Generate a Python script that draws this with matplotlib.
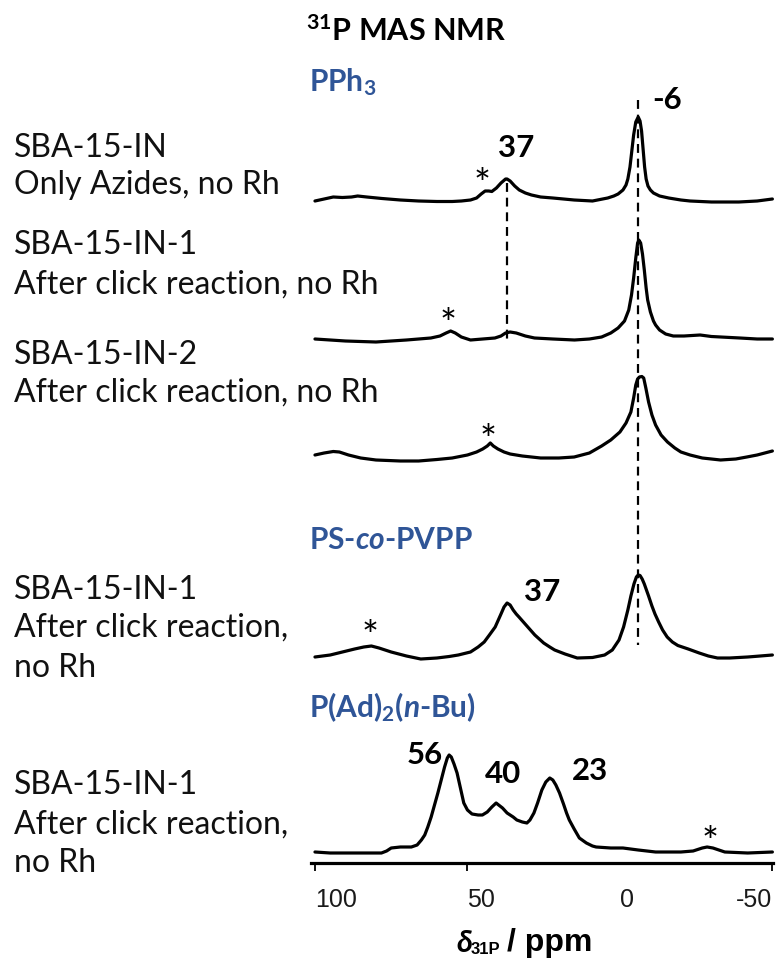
import matplotlib
matplotlib.use("Agg")
import matplotlib.pyplot as plt
import numpy as np

plt.rcParams['mathtext.fontset'] = 'custom'
plt.rcParams['mathtext.rm'] = 'Lato:bold'
plt.rcParams['mathtext.bf'] = 'Lato:bold'
plt.rcParams['mathtext.it'] = 'Lato:italic:bold'

# ---- spectra: chemical shift (ppm) and intensity (a.u., above own baseline) ----
ppm_in = [100, 97, 94, 91, 88, 86, 83, 78, 72, 66, 60, 55, 52, 49, 47, 45.5, 44.2, 43.0,
          42.0, 40.5, 39.0, 37.5, 37.0, 36.0, 34.5, 33.0, 31.0, 29.0, 26.0, 22.0, 15.0,
          9.0, 4.0, 2.0, 0.6, -1.0, -2.0, -2.6, -3.3, -3.9, -4.5, -5.2, -6.0, -6.6,
          -7.1, -7.6, -8.1, -8.6, -9.2, -10.0, -11.0, -13.0, -16.0, -20.0, -23.0, -30.0,
          -39.0, -45.0, -50]
int_in = [0, 2, 4, 3.5, 4, 5, 4, 2.5, 1, 0, -0.5, -0.5, 0, 1, 3, 7, 10, 10,
          9.5, 13, 18, 22, 22, 20, 15, 11, 8, 6, 4, 3, 1,
          0, 3, 5, 7, 11, 16, 22, 34, 50, 66, 79, 84, 80,
          70, 52, 34, 22, 15, 11, 8, 5, 3, 1, 0, -1,
          -1, 0, 2]

ppm_in1 = [100, 95, 90, 80, 70, 62, 59, 57, 55.5, 54, 52, 49, 45, 41, 39, 37.5, 36, 34,
           31, 28, 22, 14.9, 10, 6, 3, 0.6, -1.5, -2.9, -3.8, -4.5, -5.2, -5.8, -6.2,
           -6.8, -7.4, -8.0, -8.6, -9.1, -10.0, -11.0, -11.7, -13.0, -15.0, -17.5, -21.0,
           -26.3, -30.0, -39.3, -45.0, -50]
int_in1 = [1, 0, -1, -2, 0, 2, 4, 7, 9, 7, 3, 0, 1, 2, 4, 7, 8, 7,
           4, 2, 1, 0, 1, 3, 7, 12, 19, 30, 45, 62, 82, 97, 100,
           97, 86, 70, 52, 40, 28, 19, 15, 10, 6, 4, 4,
           5, 3.5, 2, 1, 1]

ppm_in2 = [100, 97, 94, 92, 89, 85, 80, 72, 66, 60, 55, 50, 47, 45, 43.5, 42.5, 41.5, 40,
           38, 36, 32, 26, 20, 15, 10, 6, 3, 0, -2.0, -3.6, -4.5, -5.2, -5.8, -6.4,
           -7.2, -7.8, -8.5, -9.4, -10.5, -11.7, -13.5, -15.6, -18.0, -20.0, -23.0,
           -27.0, -33.0, -38.0, -41.6, -45.0, -50]
int_in2 = [6, 8, 9.5, 9, 6, 3, 1, 0, 0, 1.5, 3, 6, 9, 12, 15, 18, 15, 12,
           9, 7, 5, 3, 3, 4, 8, 15, 21, 29, 38, 49, 63, 76, 82, 84,
           84.5, 83, 73, 59, 46, 36, 26, 19, 13, 9, 6,
           3, 1, 2, 4, 6, 10]

ppm_ps = [100, 95, 91, 87, 84, 81.5, 79, 75, 70, 65.3, 60, 56, 53, 49, 46.5, 44.5, 42.8,
          40.9, 39.0, 38.0, 37.0, 36.0, 35.0, 34.0, 33.1, 30.5, 27.9, 25.0, 23.0, 21.4,
          18.0, 14.0, 9.0, 5.0, 2.5, 0.3, -1.2, -2.6, -3.6, -4.6, -5.4, -6.0, -6.6,
          -7.3, -8.0, -8.7, -9.4, -10.5, -11.5, -12.7, -14.0, -15.5, -17.2, -19.0, -22.4,
          -26.0, -29.0, -32.0, -36.0, -41.9, -46.0, -50]
int_ps = [2, 4, 7, 10, 12, 13, 11, 7, 3, 0, 1, 2.5, 4, 7, 12, 17, 24,
          32, 45, 52, 56, 54, 49, 45, 42, 33, 24, 16, 12, 9,
          5, 1, 1.5, 4, 9, 19, 32, 49, 63, 75, 82, 84, 83.5,
          80, 75, 69, 63, 53, 45, 37, 29, 22, 17, 13.5, 10,
          6, 3, 1, 1, 2, 3, 4]

ppm_ad = [100, 95, 89, 84, 78.2, 76.5, 75, 72, 68.4, 66.5, 65.1, 64, 63, 61.9, 60.8,
          59.7, 58.6, 57.5, 56.6, 56.0, 55.3, 54.4, 53.4, 52.3, 51.2, 50.0, 48.5, 46.5,
          45.1, 43.5, 42.0, 40.6, 38.5, 37.0, 35.0, 33.8, 32.0, 30.5, 29.5, 28.2, 27.0,
          25.6, 24.3, 23.0, 22.0, 21.0, 19.8, 18.5, 17.5, 16.6, 15.0, 13.3, 11.0, 9.0,
          7.8, 3.0, -1.0, -6.0, -11.7, -20.0, -24.0, -27.0, -28.6, -30.5, -34.4, -41.9, -50]
int_ad = [1, 0, 0, 0, 0, 2, 5, 6, 6, 8, 13, 18, 26, 36, 48,
          60, 73, 86, 95, 98, 96, 89, 80, 65, 50, 43, 39, 38,
          38, 41, 46, 50, 45, 40, 36, 33, 31, 30, 33, 40, 50,
          63, 71, 75, 73, 68, 60, 49, 40, 33, 24, 15, 10, 7,
          6, 5, 5, 3, 1, 1, 2, 5, 6, 5, 1, 0, 1]

spectra = [(ppm_in, int_in), (ppm_in1, int_in1), (ppm_in2, int_in2),
           (ppm_ps, int_ps), (ppm_ad, int_ad)]
offsets = [662, 523, 402, 204, 10]

# reference shifts marked with dashed lines
ref_shifts = [-6, 37]

x_ticks = [100, 50, 0, -50]
x_ticklabels = ['100', '50', '0', '-50']

sample_labels = [
    ["SBA-15-IN", "Only Azides, no Rh"],
    ["SBA-15-IN-1", "After click reaction, no Rh"],
    ["SBA-15-IN-2", "After click reaction, no Rh"],
    ["SBA-15-IN-1", "After click reaction,", "no Rh"],
    ["SBA-15-IN-1", "After click reaction,", "no Rh"],
]

W, H = 778, 960
fig = plt.figure(figsize=(W / 100, H / 100), dpi=100)
ax = fig.add_axes([311 / W, (H - 863) / H, 462 / W, 783 / H])
ax.set_xlim(101.3, -50.2)
ax.set_ylim(0, 783)

for (p, i), off in zip(spectra, offsets):
    ax.plot(p, np.asarray(i) + off, color='black', lw=2.3,
            solid_joinstyle='round', solid_capstyle='round', clip_on=False)

dash = dict(color='black', lw=1.6, linestyle=(0, (4, 2.6)))
ax.plot([ref_shifts[0]] * 2, [763, 218], **dash)
ax.plot([ref_shifts[1]] * 2, [680, 523], **dash)

for s in ['left', 'right', 'top']:
    ax.spines[s].set_visible(False)
ax.spines['bottom'].set_linewidth(2.3)
ax.set_yticks([])
ax.set_xticks(x_ticks)
ax.set_xticklabels(x_ticklabels, fontfamily='Liberation Sans', fontsize=18, color='#1a1a1a')
ax.tick_params(axis='x', direction='out', length=6, width=1.3, pad=12)
ax.xaxis.get_major_ticks()[2].tick1line.set_visible(False)
for lbl in ax.get_xticklabels():
    lbl.set_ha('left')
ax.get_xticklabels()[-1].set_ha('right')


def ftext(x, y, s, **kw):
    fig.text(x / W, 1 - y / H, s, **kw)


lab = dict(fontfamily='Lato', fontsize=23, color='#111111', va='center', ha='left')
ys = [[148, 185], [245, 285], [355, 393], [590, 628, 668], [785, 825, 863]]
for lines, yy in zip(sample_labels, ys):
    for s, y in zip(lines, yy):
        ftext(14, y, s, **lab)

# headings
ftext(306, 31, r"$^{31}$P MAS NMR", fontfamily='Lato', fontweight='bold',
      fontsize=22, color='black', va='center')
blue = '#2F5597'
hd = dict(fontfamily='Lato', fontweight='bold', fontsize=21.5, color=blue, va='center')
ftext(309, 82, r"PPh$_3$", **hd)
ftext(309, 540, r"PS-$\mathit{co}$-PVPP", **hd)
ftext(309, 707, r"P(Ad)$_2$($\mathit{n}$-Bu)", **hd)

# peak annotations
pk = dict(fontfamily='Lato', fontweight='bold', fontsize=22.5, color='black',
          va='center', ha='center')
ftext(667, 100, "-6", **pk)
ftext(516, 148, "37", **pk)
ftext(542, 592, "37", **pk)
ftext(425, 755, "56", **pk)
ftext(503, 774, "40", **pk)
ftext(590, 771, "23", **pk)

st = dict(fontfamily='Lato', fontsize=29, color='black', va='center', ha='center')
for x, y in [(482, 187), (448, 327), (488, 442), (370, 638), (710, 844)]:
    ftext(x, y, "*", **st)

# axis title
ftext(464, 944, r"$\delta$", fontfamily='Liberation Serif', fontstyle='italic',
      fontsize=22, va='center', ha='center')
ftext(471, 950, "31P", fontfamily='Liberation Sans', fontweight='bold',
      fontsize=12, va='center', ha='left')
ftext(507, 943, "/ ppm", fontfamily='Liberation Sans', fontweight='bold',
      fontsize=23, va='center', ha='left')

fig.savefig("out.png", dpi=100)
